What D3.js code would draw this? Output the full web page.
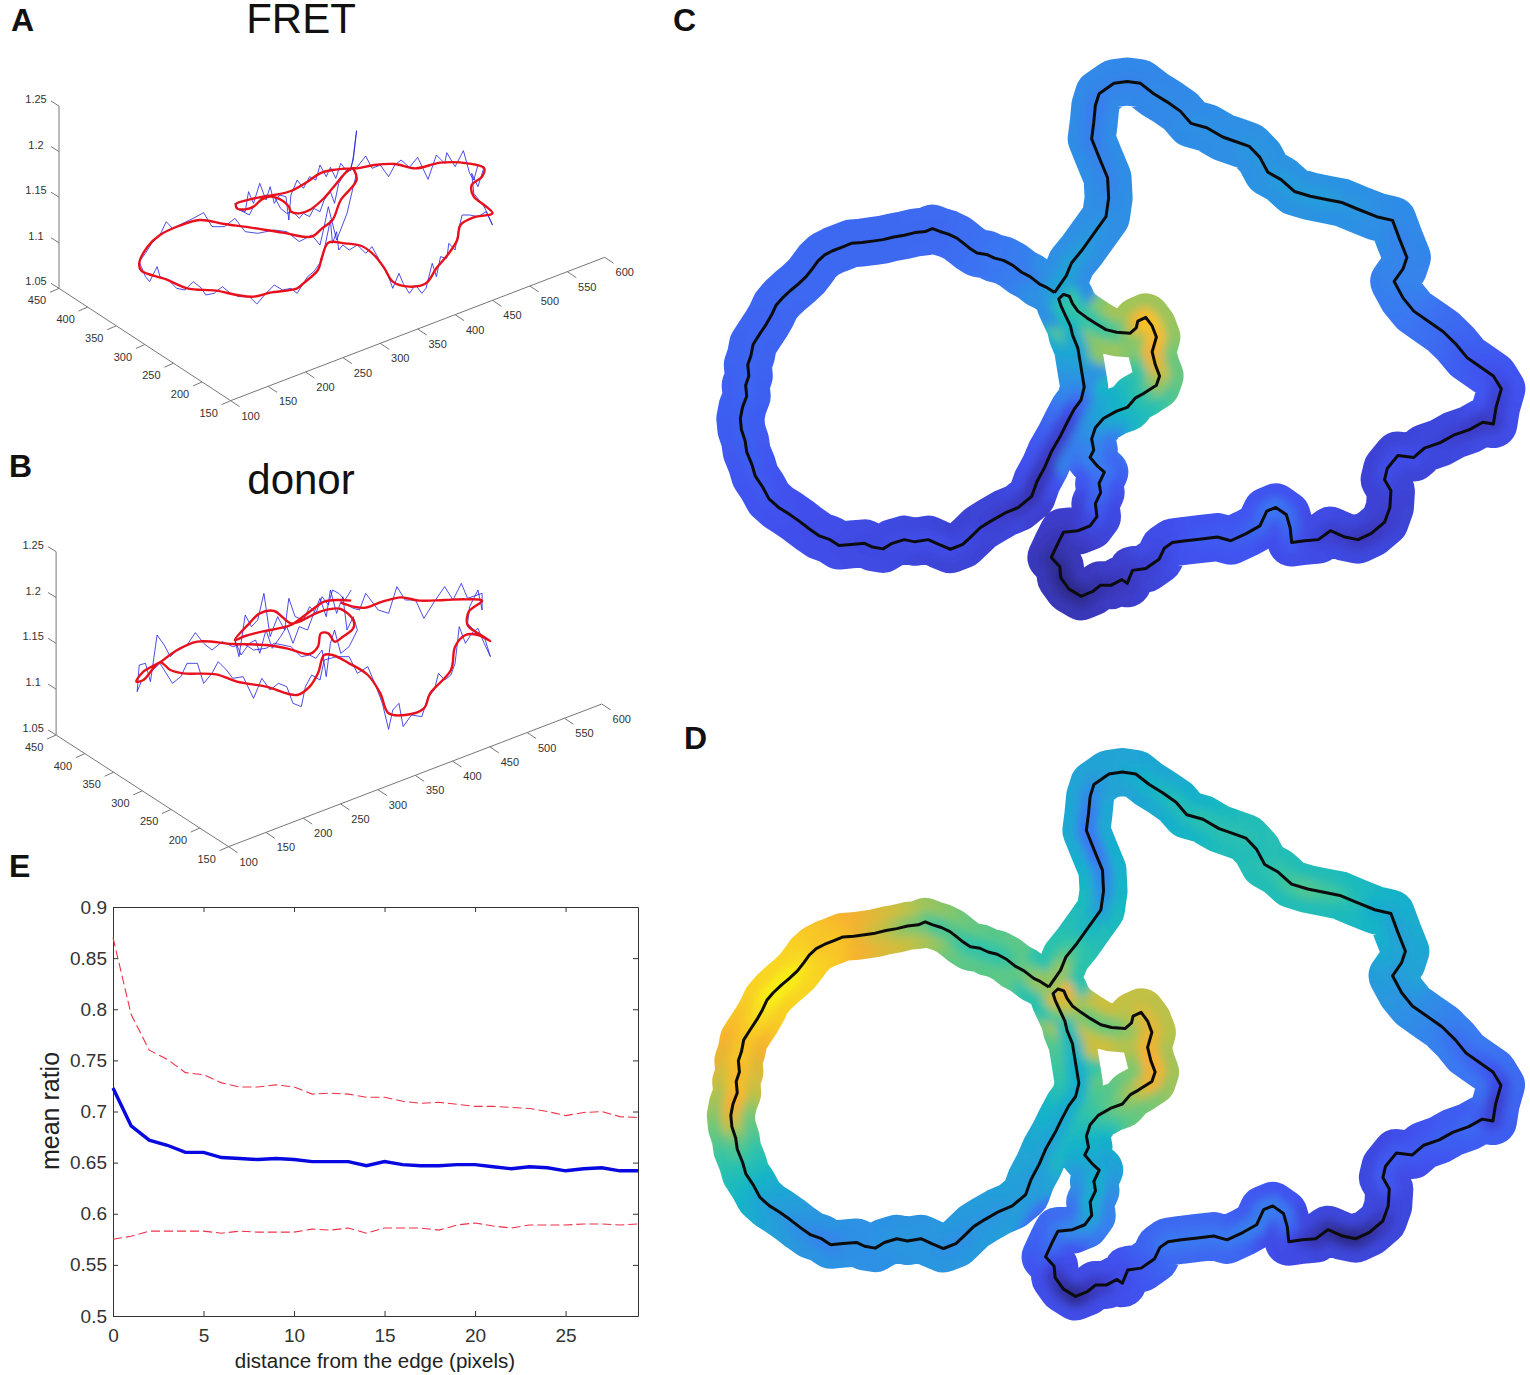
<!DOCTYPE html>
<html>

<head>
  <title>FRET and donor ratio along the cell edge</title>
  <script src="https://d3js.org/d3.v7.min.js"></script>
  <style>
    body {
      margin: 0;
      background-color: white;
    }

    text {
      font-family: "Liberation Sans", Arial, sans-serif;
    }

    .panel-letter {
      font-size: 32px;
      font-weight: bold;
      fill: #111;
    }

    .panel-title {
      font-size: 42px;
      fill: #111;
      text-anchor: middle;
    }

    .tick3d {
      font-size: 11px;
      fill: #333;
      text-anchor: middle;
    }

    .axis-e text {
      font-size: 19px;
      fill: #333;
    }

    .axis-e path,
    .axis-e line {
      stroke: #333;
    }
  </style>
</head>

<body>
  <svg id="chart"></svg>

  <script type="text/javascript">
    // --- panel E, mean ratio against distance from the edge
    var distance = d3.range(0, 30);
    var meanRatio = [.723, .686, .672, .667, .660, .660, .655, .654, .653, .654, .653, .651, .651, .651, .647,
      .651, .648, .647, .647, .648, .648, .646, .644, .646, .645, .642, .644, .645, .642, .642];
    var upperRatio = [.870, .795, .760, .751, .738, .736, .728, .724, .724, .726, .724, .717, .718, .717, .714,
      .714, .710, .708, .709, .707, .705, .705, .704, .703, .700, .696, .699, .700, .695, .694];
    var lowerRatio = [.575, .578, .583, .583, .583, .583, .581, .583, .582, .582, .582, .585, .584, .586, .581,
      .586, .586, .586, .584, .589, .591, .588, .586, .589, .589, .589, .590, .590, .589, .590];
    var distanceTicks = [0, 5, 10, 15, 20, 25];
    var ratioTicks = [0.5, 0.55, 0.6, 0.65, 0.7, 0.75, 0.8, 0.85, 0.9];

    // --- panels C and D, cell outline, one line = 10 vertices
    var contourX = [
      668, 652, 640, 622, 606, 590, 572, 555, 540, 522,
      508, 495, 484, 468, 452, 438, 425, 405, 385, 365,
      345, 325, 305, 285, 268, 250, 235, 222, 212, 200,
      185, 170, 155, 143, 135, 125, 112, 100, 96, 90,
      92, 86, 88, 80, 76, 78, 85, 88, 98, 104,
      118, 130, 148, 165, 185, 205, 225, 245, 262, 285,
      310, 325, 345, 362, 385, 405, 430, 450, 472, 495,
      510, 528, 548, 575, 600, 625, 635, 650, 662, 680,
      692, 705, 718, 724, 720, 716, 712, 702, 698, 688,
      680, 676, 685, 696, 702, 712, 728, 745, 765, 785,
      810, 822, 825, 840, 852, 860, 852, 858, 866, 860,
      835, 820, 805, 785, 760, 745, 738, 742, 735, 750,
      762, 752, 755, 745, 748, 735, 712, 685, 675, 662,
      678, 680, 695, 718, 740, 755, 775, 795, 805, 815,
      840, 865, 875, 890, 915, 945, 975, 1000, 1030, 1055,
      1068, 1085, 1105, 1112, 1115, 1140, 1165, 1188, 1215, 1240,
      1265, 1290, 1300, 1302, 1290, 1295, 1315, 1345, 1365, 1395,
      1420, 1450, 1475, 1495, 1500, 1510, 1495, 1470, 1445, 1425,
      1400, 1375, 1345, 1325, 1308, 1325, 1332, 1318, 1305, 1275,
      1240, 1210, 1185, 1150, 1120, 1095, 1070, 1055, 1035, 1005,
      985, 955, 925, 905, 880, 855, 830, 805, 780, 752,
      745, 742, 738, 752, 768, 770, 765, 745, 720, 700,
      690, 668];
    var contourY = [
      655, 640, 632, 612, 600, 582, 568, 562, 552, 548,
      535, 520, 508, 497, 490, 482, 490, 493, 500, 505,
      512, 516, 520, 522, 532, 542, 553, 570, 590, 612,
      632, 650, 670, 690, 715, 740, 768, 795, 825, 850,
      880, 905, 935, 965, 995, 1025, 1055, 1085, 1120, 1150,
      1180, 1212, 1235, 1250, 1270, 1292, 1312, 1322, 1338, 1335,
      1332, 1342, 1347, 1332, 1322, 1328, 1322, 1335, 1348, 1335,
      1315, 1290, 1272, 1250, 1235, 1205, 1165, 1125, 1085, 1040,
      1005, 970, 945, 910, 875, 840, 805, 770, 745, 715,
      690, 672, 660, 665, 685, 705, 722, 738, 755, 762,
      765, 750, 732, 722, 745, 775, 815, 850, 880, 905,
      928, 940, 965, 975, 995, 1020, 1050, 1080, 1100, 1125,
      1140, 1170, 1195, 1225, 1260, 1285, 1298, 1302, 1330, 1370,
      1395, 1425, 1455, 1475, 1462, 1445, 1445, 1430, 1440, 1405,
      1400, 1375, 1345, 1330, 1325, 1320, 1315, 1325, 1305, 1285,
      1245, 1235, 1255, 1290, 1330, 1325, 1322, 1298, 1315, 1322,
      1305, 1275, 1235, 1190, 1160, 1130, 1095, 1100, 1075, 1060,
      1040, 1025, 1005, 1010, 965, 915, 880, 855, 830, 795,
      760, 735, 705, 670, 625, 590, 560, 510, 460, 450,
      430, 412, 405, 395, 382, 350, 330, 290, 260, 245,
      235, 210, 198, 165, 140, 118, 90, 85, 90, 118,
      150, 195, 240, 290, 345, 400, 450, 490, 540, 575,
      610, 655];
    // colour level (0 to 100) under each vertex, same order as contourX
    var fretLevel = [
      48, 42, 40, 36, 34, 33, 33, 32, 32, 31,
      30, 30, 29, 29, 28, 28, 28, 28, 28, 28,
      28, 28, 28, 28, 28, 28, 28, 28, 28, 28,
      28, 28, 28, 28, 27, 27, 27, 27, 27, 27,
      27, 27, 27, 26, 26, 26, 26, 25, 25, 24,
      24, 23, 22, 22, 21, 20, 20, 20, 19, 19,
      18, 18, 18, 19, 19, 20, 20, 20, 19, 18,
      18, 16, 14, 12, 10, 8, 8, 10, 12, 14,
      16, 20, 28, 36, 42, 46, 48, 50, 52, 54,
      56, 58, 60, 60, 60, 60, 60, 60, 62, 64,
      70, 78, 84, 90, 92, 90, 88, 84, 80, 72,
      62, 58, 54, 52, 48, 44, 40, 36, 36, 34,
      32, 30, 28, 26, 22, 18, 14, 10, 8, 4,
      2, 0, 0, 0, 4, 6, 8, 10, 10, 12,
      14, 16, 18, 20, 22, 24, 24, 24, 26, 28,
      30, 32, 30, 28, 24, 20, 16, 14, 12, 10,
      10, 12, 14, 16, 18, 20, 20, 20, 18, 16,
      14, 12, 10, 12, 14, 16, 20, 22, 24, 26,
      28, 30, 32, 34, 36, 36, 36, 36, 38, 40,
      42, 42, 44, 44, 44, 44, 42, 42, 42, 40,
      40, 40, 40, 38, 38, 38, 36, 36, 36, 36,
      34, 34, 34, 36, 36, 38, 40, 42, 44, 46,
      46, 48];
    var donorLevel = [
      78, 76, 72, 68, 66, 62, 60, 60, 60, 60,
      60, 62, 64, 64, 62, 64, 68, 70, 72, 76,
      78, 82, 86, 90, 92, 92, 92, 94, 96, 98,
      100, 100, 100, 100, 98, 96, 94, 92, 92, 92,
      90, 90, 90, 88, 84, 78, 70, 64, 60, 56,
      52, 48, 46, 44, 42, 40, 38, 36, 36, 38,
      40, 40, 40, 42, 42, 42, 42, 42, 40, 40,
      40, 42, 42, 42, 44, 44, 44, 46, 46, 48,
      48, 50, 50, 50, 50, 52, 54, 56, 58, 68,
      76, 84, 88, 88, 84, 78, 72, 68, 68, 68,
      70, 72, 76, 80, 82, 84, 86, 88, 88, 86,
      80, 74, 70, 66, 62, 58, 54, 52, 50, 48,
      48, 50, 50, 50, 48, 44, 38, 34, 30, 26,
      18, 10, 4, 0, 6, 10, 12, 16, 20, 20,
      24, 26, 30, 32, 32, 32, 32, 32, 34, 34,
      34, 34, 32, 28, 20, 14, 8, 4, 0, 0,
      4, 10, 16, 22, 24, 24, 24, 24, 24, 26,
      26, 28, 24, 16, 14, 18, 22, 26, 28, 30,
      34, 38, 40, 42, 44, 46, 46, 46, 48, 50,
      56, 60, 62, 64, 62, 60, 58, 56, 58, 58,
      58, 58, 56, 56, 54, 52, 50, 48, 46, 42,
      38, 34, 32, 32, 36, 40, 46, 54, 60, 66,
      72, 78];
    var levelStops = [0, 12, 22, 32, 42, 52, 60, 68, 78, 88, 100];
    var levelColors = ["#2f2a8c", "#3c3cc8", "#4052f0", "#3a78f2", "#2a96e0", "#14b4c8", "#30c4a8", "#70c878",
      "#c8c040", "#f8b030", "#f8f018"];

    // --- panels A and B, traces as seen on the view plane of the 3D plot
    var fretSmoothU = [845, 800, 770, 740, 700, 660, 625, 590, 568, 570, 590, 610, 630, 650, 680, 695, 700, 720, 745,
      775, 800, 830, 845, 860, 900, 950, 1000, 1060, 1125, 1165, 1160, 1135, 1140, 1165, 1185, 1140, 1108, 1100,
      1080, 1050, 1025, 985, 945, 925, 900, 870, 830, 790, 775, 765, 730, 715, 650, 610, 570, 520, 450, 400, 340,
      335, 355, 385, 430, 480, 540, 600, 680, 750, 775, 800, 820, 858, 850];
    var fretSmoothV = [265, 270, 280, 305, 333, 345, 352, 362, 372, 385, 388, 380, 358, 350, 362, 380, 395, 400, 390,
      360, 325, 280, 265, 265, 255, 252, 265, 248, 250, 265, 290, 315, 350, 375, 400, 412, 435, 480,
      520, 565, 610, 620, 605, 565, 525, 498, 490, 488, 530, 570, 610, 625, 638, 650, 645, 632, 625, 598, 572,
      550, 500, 465, 438, 420, 432, 442, 458, 470, 445, 420, 360, 300, 265];
    var fretRawU = [845, 850, 858, 850, 842, 835, 820, 808, 795, 785, 770, 760, 745, 730, 715, 700, 695, 688, 672, 660, 650, 640, 625,
      610, 598, 590, 575, 565, 570, 585, 600, 610, 625, 640, 660, 675, 690, 705, 720, 730, 745, 755, 770, 780, 795,
      805, 815, 830, 845, 860, 880, 895, 915, 935, 950, 965, 985, 1005, 1030, 1050, 1070, 1075, 1095, 1115, 1130,
      1140, 1150, 1165, 1150, 1135, 1140, 1165, 1185, 1170, 1150, 1130, 1112, 1105, 1095, 1080, 1075, 1060, 1050,
      1040, 1025, 1015, 1000, 985, 970, 960, 945, 935, 915, 895, 880, 860, 840, 825, 815, 810, 800, 795, 775, 755,
      740, 730, 715, 700, 680, 660, 640, 618, 600, 575, 555, 535, 515, 495, 485, 465, 445, 425, 405, 385, 378, 360,
      350, 335, 350, 365, 385, 400, 415, 440, 465, 490, 510, 540, 565, 590, 620, 660, 690, 720, 750, 770, 780, 790,
      810, 835, 850, 858, 845];
    var fretRawV = [265, 230, 152, 240, 270, 275, 250, 295, 262, 290, 255, 300, 290, 325, 300, 345, 420, 350, 345, 370, 320, 360, 310,
      370, 335, 395, 390, 370, 385, 395, 405, 380, 360, 345, 350, 385, 400, 395, 415, 400, 410, 385, 395, 360, 335,
      370, 310, 280, 270, 260, 228, 265, 255, 290, 255, 240, 262, 232, 298, 225, 250, 218, 260, 212, 280,
      300, 255, 260, 320, 280, 340, 380, 435, 395, 410, 405, 405, 440, 510, 490, 535, 530, 590,
      550, 625, 640, 615, 640, 610, 580, 625, 590, 545, 500, 520, 495, 510, 495, 510, 455, 490, 420, 540, 575,
      590, 610, 640, 625, 630, 615, 640, 672, 650, 650, 640, 620, 640, 645, 625, 605, 630, 625, 600, 590, 560, 605,
      590, 545, 520, 490, 465, 425, 445, 430, 415, 398, 440, 440, 415, 455, 460, 450, 455, 485, 465, 495, 440, 380,
      480, 400, 320, 280, 265];

    var donorSmoothU = [845, 815, 780, 745, 700, 670, 630, 590, 565, 600, 625, 660, 680, 700, 720, 760, 790, 820, 850, 850, 825, 805,
      790, 772, 765, 745, 690, 640, 560, 475, 420, 385, 345, 328, 345, 385, 410, 440, 520, 570, 640, 715, 745, 765,
      780, 800, 840, 885, 915, 935, 975, 1020, 1035, 1085, 1095, 1120, 1150, 1180, 1150, 1125, 1128, 1160, 1120,
      1070, 1010, 965, 920, 880, 850, 820];
    var donorSmoothV = [212, 210, 215, 245, 285, 295, 305, 318, 330, 280, 250, 243, 262, 280, 275, 250, 238, 237, 270, 295, 320, 335,
      310, 310, 350, 372, 355, 345, 342, 335, 365, 397, 425, 455, 450, 397, 420, 430, 433, 455, 470, 495, 470, 430,
      375, 375, 400, 435, 490, 550, 555, 535, 490, 420, 350, 315, 315, 333, 310, 285, 245, 212, 208,
      210, 212, 202, 215, 233, 230, 218];
    var donorRawU = [845, 830, 815, 800, 790, 775, 760, 745, 730, 710, 695, 685, 668, 650, 635, 620, 605, 590, 575, 565, 580, 600,
      615, 625, 640, 655, 675, 690, 705, 720, 740, 755, 770, 785, 795, 810, 825, 835, 850, 860, 840, 820, 805, 795,
      785, 775, 760, 745, 725, 700, 680, 660, 640, 610, 585, 560, 535, 510, 490, 470, 450, 430, 410, 395, 378, 362,
      350, 335, 330, 340, 360, 385, 400, 415, 435, 450, 475, 490, 510, 525, 545, 560, 585, 610, 630, 650, 670, 690,
      705, 725, 735, 750, 770, 780, 810, 840, 860, 885, 905, 920, 935, 945, 960, 970, 990, 1015, 1030, 1045, 1055,
      1070, 1085, 1095, 1105, 1120, 1135, 1150, 1165, 1180, 1165, 1140, 1125, 1130, 1150, 1160, 1160, 1125, 1110,
      1090, 1070, 1045, 1020, 1000, 975, 955, 935, 910, 880, 865, 850, 830];
    var donorRawV = [180, 210, 190, 180, 225, 200, 250, 230, 270, 260, 205, 300, 260, 320, 190, 270, 290, 255, 380, 330, 375, 340,
      330, 370, 300, 355, 320, 290, 340, 290, 300, 250, 205, 260, 180, 250, 200, 300, 260, 300, 350, 370, 300, 340,
      440, 360, 385, 375, 380, 350, 345, 340, 355, 360, 340, 350, 335, 360, 340, 308, 345, 355, 380, 345, 315, 455,
      400, 405, 485, 455, 430, 400, 430, 460, 440, 400, 400, 460, 430, 395, 420, 445, 440, 505, 445, 480, 460, 470,
      520, 530, 470, 435, 450, 390, 380, 380, 430, 410, 470, 520, 598, 540, 520, 590, 555, 560, 500, 480, 430,
      450, 435, 400, 290, 340, 310, 295, 340, 380, 320, 300, 280, 230, 180, 240, 190, 205, 160,
      210, 170, 215, 265, 210, 210, 170, 250, 240, 190, 240, 235, 220];

    var xTicks3d = [100, 150, 200, 250, 300, 350, 400, 450, 500, 550, 600];
    var yTicks3d = [150, 200, 250, 300, 350, 400, 450];
    var zTicks3d = [1.05, 1.1, 1.15, 1.2, 1.25];

    var width = 1530;
    var height = 1375;

    var svg = d3.select("#chart").attr("width", width).attr("height", height).style("display", "block");
    var defs = svg.append("defs");

    // panel letters and titles
    var letters = [["A", 11, 31], ["B", 9, 477], ["C", 673, 31], ["D", 684, 749], ["E", 9, 877]];
    svg.selectAll(".panel-letter").data(letters).enter().append("text")
      .attr("class", "panel-letter")
      .attr("x", d => d[1])
      .attr("y", d => d[2])
      .text(d => d[0]);
    svg.append("text").attr("class", "panel-title").attr("x", 301).attr("y", 33).text("FRET");
    svg.append("text").attr("class", "panel-title").attr("x", 301).attr("y", 494).text("donor");

    // ---------- 3D panels
    function draw3d(box, corner, xEnd, yEnd, zTop, smoothU, smoothV, rawU, rawV) {
      var g = svg.append("g");
      var u = d3.scaleLinear().domain([0, 1564]).range([0, 650]);
      var v = d3.scaleLinear().domain([0, 1050]).range([box, box + 350]);
      var axisX = d3.scaleLinear().domain([100, 600]);
      var xAt = d => [u(corner[0] + (xEnd[0] - corner[0]) * axisX(d)), v(corner[1] + (xEnd[1] - corner[1]) * axisX(d))];
      var axisY = d3.scaleLinear().domain([150, 450]);
      var yAt = d => [u(corner[0] + (yEnd[0] - corner[0]) * axisY(d)), v(corner[1] + (yEnd[1] - corner[1]) * axisY(d))];
      var axisZ = d3.scaleLinear().domain([1.05, 1.25]);
      var zAt = d => [u(yEnd[0]), v(yEnd[1] + (zTop - yEnd[1]) * axisZ(d))];

      var stroke = "#777";
      var seg = (a, b) => g.append("line").attr("x1", a[0]).attr("y1", a[1]).attr("x2", b[0]).attr("y2", b[1])
        .attr("stroke", stroke).attr("stroke-width", 1);
      seg(xAt(100), xAt(600));
      seg(yAt(150), yAt(450));
      seg(zAt(1.05), zAt(1.25));

      xTicks3d.forEach(d => {
        var p = xAt(d);
        seg(p, [p[0] + 9, p[1] + 6]);
        g.append("text").attr("class", "tick3d").attr("x", p[0] + 20).attr("y", p[1] + 19).text(d);
      });
      yTicks3d.forEach(d => {
        var p = yAt(d);
        seg(p, [p[0] - 9, p[1] + 4]);
        g.append("text").attr("class", "tick3d").attr("x", p[0] - 22).attr("y", p[1] + 16).text(d);
      });
      zTicks3d.forEach(d => {
        var p = zAt(d);
        seg(p, [p[0] - 8, p[1] - 5]);
        g.append("text").attr("class", "tick3d").attr("x", p[0] - 23).attr("y", p[1] - 3).text(d);
      });

      var rawLine = d3.line().x(d => u(d[0])).y(d => v(d[1]));
      var smoothLine = d3.line().x(d => u(d[0])).y(d => v(d[1])).curve(d3.curveCatmullRom);
      g.append("path").attr("d", rawLine(d3.zip(rawU, rawV)))
        .attr("fill", "none").attr("stroke", "#1f1fe0").attr("stroke-width", 0.8).attr("stroke-linejoin", "round");
      g.append("path").attr("d", smoothLine(d3.zip(smoothU, smoothV)))
        .attr("fill", "none").attr("stroke", "#e8101c").attr("stroke-width", 2.4).attr("stroke-linejoin", "round");
    }

    draw3d(80, [555, 962], [1455, 532], [142, 625], 78, fretSmoothU, fretSmoothV, fretRawU, fretRawV);
    draw3d(530, [550, 950], [1448, 522], [135, 615], 65, donorSmoothU, donorSmoothV, donorRawU, donorRawV);

    // ---------- outline panels
    var levelColor = d3.scaleLinear().domain(levelStops).range(levelColors);

    function drawOutline(id, x, y, levels) {
      var pts = d3.zip(contourX, contourY).map(d => [x(d[0]), y(d[1])]);
      var line = d3.line();
      var left = x.range()[0] - 20, top = y.range()[0] - 20;
      var w = x.range()[1] - left + 40, h = y.range()[1] - top + 40;

      var mask = defs.append("mask").attr("id", "band-" + id).attr("maskUnits", "userSpaceOnUse")
        .attr("x", left).attr("y", top).attr("width", w).attr("height", h);
      mask.append("path").attr("d", line(pts)).attr("fill", "none").attr("stroke", "white")
        .attr("stroke-width", 48).attr("stroke-linejoin", "round").attr("stroke-linecap", "round");
      defs.append("filter").attr("id", "soft-" + id).attr("filterUnits", "userSpaceOnUse")
        .attr("x", left).attr("y", top).attr("width", w).attr("height", h)
        .append("feGaussianBlur").attr("stdDeviation", 5);

      var n = pts.length;
      var edgeLevels = levels.map((d, i) => d3.mean(d3.range(i - 9, i + 10), j => levels[(j + n) % n]) * 0.9 + d * 0.1);
      var segs = d3.range(n - 1);
      var band = svg.append("g").attr("mask", "url(#band-" + id + ")").append("g").attr("filter", "url(#soft-" + id + ")");

      band.append("g").selectAll("line").data(segs).enter().append("line")
        .attr("x1", i => pts[i][0]).attr("y1", i => pts[i][1])
        .attr("x2", i => pts[i + 1][0]).attr("y2", i => pts[i + 1][1])
        .attr("stroke", i => levelColor(edgeLevels[i]))
        .attr("stroke-width", 70).attr("stroke-linecap", "round");
      band.append("g").selectAll("line").data(segs).enter().append("line")
        .attr("x1", i => pts[i][0]).attr("y1", i => pts[i][1])
        .attr("x2", i => pts[i + 1][0]).attr("y2", i => pts[i + 1][1])
        .attr("stroke", i => levelColor(levels[i]))
        .attr("stroke-width", 20).attr("stroke-linecap", "round");

      svg.append("path").attr("d", line(pts)).attr("fill", "none").attr("stroke", "#0c0c0c")
        .attr("stroke-width", 3).attr("stroke-linejoin", "round");
    }

    drawOutline("c", d3.scaleLinear().domain([0, 1564]).range([700, 1530]), d3.scaleLinear().domain([0, 1566]).range([50, 630]), fretLevel);
    drawOutline("d", d3.scaleLinear().domain([0, 1564]).range([690, 1530]), d3.scaleLinear().domain([0, 1564]).range([740, 1330]), donorLevel);

    // ---------- panel E
    var xE = d3.scaleLinear().domain([0, 29]).range([113, 638]);
    var yE = d3.scaleLinear().domain([0.5, 0.9]).range([1316, 907]);
    var fmt = d => String(d);

    var gE = svg.append("g");
    gE.append("g").attr("class", "axis-e").attr("transform", "translate(0,1316)")
      .call(d3.axisBottom(xE).tickValues(distanceTicks).tickFormat(fmt).tickSizeInner(-5).tickSizeOuter(0).tickPadding(13));
    gE.append("g").attr("class", "axis-e").attr("transform", "translate(0,907)")
      .call(d3.axisTop(xE).tickValues(distanceTicks).tickFormat("").tickSizeInner(-5).tickSizeOuter(0));
    gE.append("g").attr("class", "axis-e").attr("transform", "translate(113,0)")
      .call(d3.axisLeft(yE).tickValues(ratioTicks).tickFormat(fmt).tickSizeInner(-5).tickSizeOuter(0).tickPadding(6));
    gE.append("g").attr("class", "axis-e").attr("transform", "translate(638,0)")
      .call(d3.axisRight(yE).tickValues(ratioTicks).tickFormat("").tickSizeInner(-5).tickSizeOuter(0));

    var lineE = d3.line().x((d, i) => xE(distance[i])).y(d => yE(d));
    gE.append("path").attr("d", lineE(upperRatio)).attr("fill", "none").attr("stroke", "#ee3048")
      .attr("stroke-width", 1.1).attr("stroke-dasharray", "9,4");
    gE.append("path").attr("d", lineE(lowerRatio)).attr("fill", "none").attr("stroke", "#ee3048")
      .attr("stroke-width", 1.1).attr("stroke-dasharray", "9,4");
    gE.append("path").attr("d", lineE(meanRatio)).attr("fill", "none").attr("stroke", "#0808e0")
      .attr("stroke-width", 3.4);

    gE.append("text").attr("x", 375).attr("y", 1368).attr("text-anchor", "middle")
      .style("font-size", "20.5px").style("fill", "#222").text("distance from the edge (pixels)");
    gE.append("text").attr("transform", "translate(59,1111) rotate(-90)").attr("text-anchor", "middle")
      .style("font-size", "25px").style("fill", "#222").text("mean ratio");
  </script>
</body>

</html>
